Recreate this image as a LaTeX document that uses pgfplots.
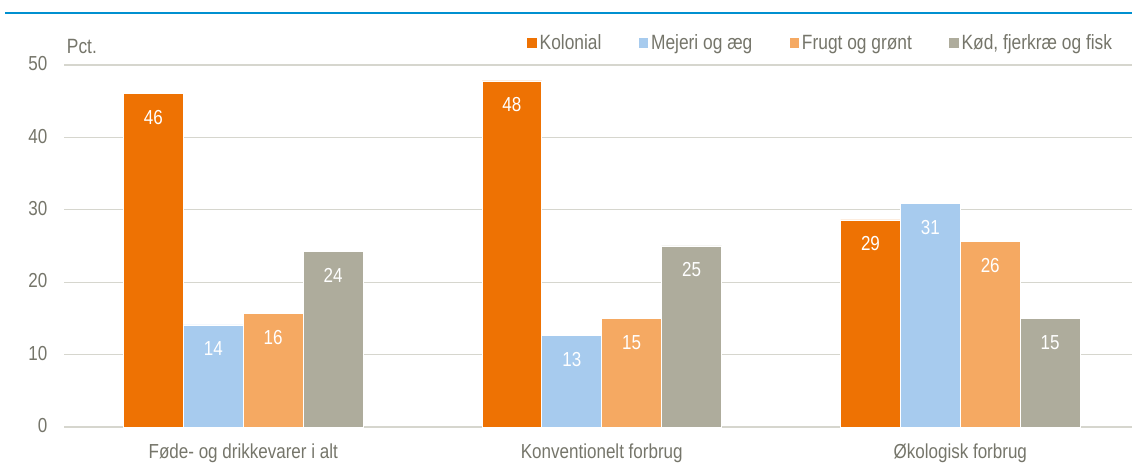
\documentclass[border=0pt]{standalone}
\usepackage{pgfplots}
\pgfplotsset{compat=1.18}
\usepackage{fontspec}
\setmainfont{Liberation Sans}[FakeStretch=0.84]
\definecolor{cOr}{HTML}{EE7203}
\definecolor{cBl}{HTML}{A7CBEE}
\definecolor{cLo}{HTML}{F5A962}
\definecolor{cGr}{HTML}{AEAC9C}
\definecolor{cTx}{HTML}{75756A}
\definecolor{cGd}{HTML}{D6D6CE}
\definecolor{cRule}{HTML}{0090D0}
\begin{document}
\begin{tikzpicture}
\useasboundingbox (0pt,0pt) rectangle (849pt,349.5pt);
\draw[cRule, line width=2.2pt] (3.75pt,339.75pt) -- (849pt,339.75pt);
\begin{axis}[
  at={(48pt,29.25pt)}, anchor=south west,
  scale only axis, width=801pt, height=271.5pt,
  xmin=-0.5, xmax=2.479, ymin=0, ymax=50,
  ytick={0,10,20,30,40,50},
  xtick={0,1,2},
  xticklabels={Føde- og drikkevarer i alt, Konventionelt forbrug, Økologisk forbrug},
  ymajorgrids, grid style={cGd, line width=1pt},
  axis line style={draw=none},
  major tick length=0pt,
  tick label style={font=\fontsize{15.2}{17}\selectfont, text=cTx},
  /pgf/number format/assume math mode=true,
  yticklabel style={anchor=east, xshift=-9pt, yshift=1pt},
  xticklabel style={yshift=-9pt},
  ybar=0pt, bar width=0.167,
  nodes near coords,
  nodes near coords style={anchor=north, yshift=-9pt, text=white, font=\fontsize{15.2}{17}\selectfont,
     /pgf/number format/.cd, fixed, precision=0, assume math mode=true},
  legend columns=4,
  legend style={at={(1,1)}, anchor=south east, xshift=-12.75pt, yshift=8pt, draw=none, fill=none,
    font=\fontsize{15.5}{17}\selectfont, text=cTx,
    /tikz/every even column/.append style={column sep=26pt},
    inner sep=0pt},
  legend image code/.code={\fill[#1, draw=none] (0pt,-3.6pt) rectangle (7.2pt,3.6pt);},
  clip=false,
]
\addplot[fill=cOr, draw=white, line width=0.6pt] coordinates {(0,46.1) (1,47.8) (2,28.6)};
\addplot[fill=cBl, draw=white, line width=0.6pt] coordinates {(0,14.1) (1,12.7) (2,30.9)};
\addplot[fill=cLo, draw=white, line width=0.6pt] coordinates {(0,15.7) (1,15.0) (2,25.6)};
\addplot[fill=cGr, draw=white, line width=0.6pt] coordinates {(0,24.2) (1,25.0) (2,15.0)};
\legend{Kolonial, Mejeri og æg, Frugt og grønt, {Kød, fjerkræ og fisk}}
\end{axis}
\node[anchor=west, text=cTx, font=\fontsize{15.5}{17}\selectfont, inner sep=0pt] at (50pt,314.25pt) {Pct.};
\end{tikzpicture}
\end{document}
